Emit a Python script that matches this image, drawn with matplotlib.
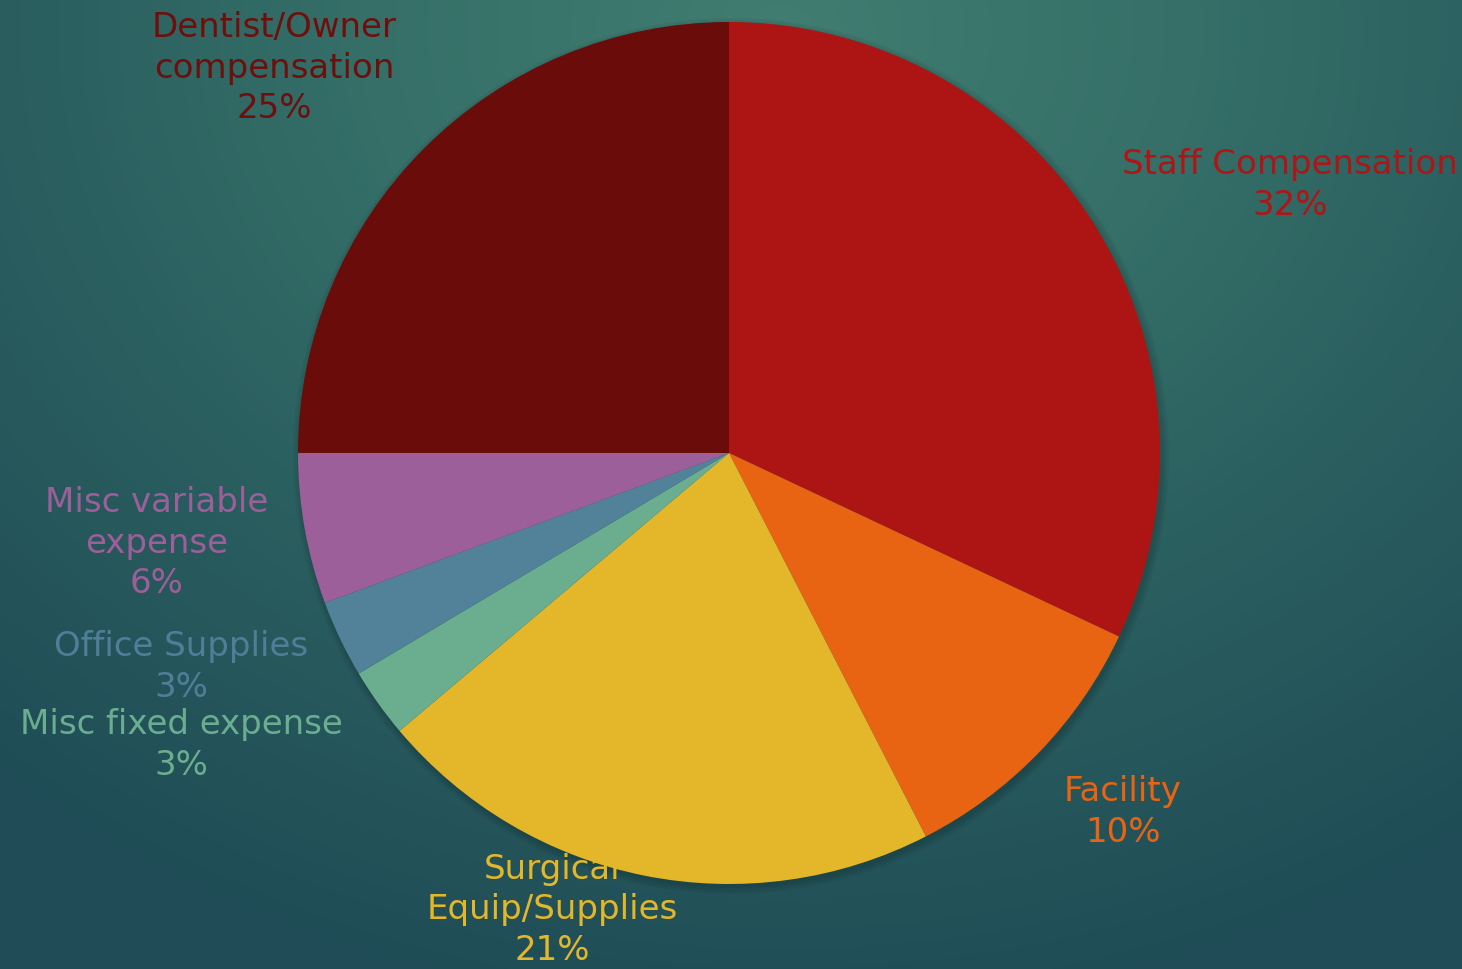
import numpy as np
import matplotlib.pyplot as plt
from matplotlib.colors import LinearSegmentedColormap
from matplotlib.patches import Circle

# slice data, clockwise from 12 o'clock
categories = ["Staff Compensation", "Facility", "Surgical\nEquip/Supplies",
              "Misc fixed expense", "Office Supplies", "Misc variable\nexpense",
              "Dentist/Owner\ncompensation"]
values = [32.0, 10.45, 21.4, 2.6, 2.9, 5.65, 25.0]
colors = ["#ad1414", "#e86412", "#e4b72a", "#6aae8f", "#518299", "#9c5f9a", "#690c0a"]
label_colors = ["#b01515", "#e86412", "#e4b72a", "#6aae8f", "#4f7f98", "#9c5f9a", "#6e0f0c"]
# label centres in pixels (x, y from top)
label_pos = [(1290, 185), (1123, 812), (552, 910), (181, 745),
             (181, 667), (157, 543), (274, 68)]

W, H = 1462, 969
fig = plt.figure(figsize=(W / 100, H / 100), dpi=100)

# background gradient
bg = fig.add_axes([0, 0, 1, 1], zorder=0)
bg.set_xlim(0, W)
bg.set_ylim(H, 0)
bg.axis("off")
yy, xx = np.mgrid[0:H, 0:W]
d = np.sqrt(((xx - 780) / 1.2) ** 2 + (yy - 30) ** 2) / 1000
d = np.clip(d, 0, 1)
cmap = LinearSegmentedColormap.from_list(
    "bg", [(0, "#417d71"), (0.35, "#356f68"), (0.6, "#2b6060"), (1, "#1f4c56")])
bg.imshow(d, cmap=cmap, extent=[0, W, H, 0], aspect="auto", interpolation="bilinear")

# soft shadow under the pie
cx, cy, r = 729, 453, 431
for i in range(4):
    bg.add_patch(Circle((cx + 2, cy + 3), r + 1 + 2 * i, color="black", alpha=0.04, lw=0))

total = sum(values)
for name, v, c, (lx, ly) in zip(categories, values, label_colors, label_pos):
    bg.text(lx, ly, f"{name}\n{round(v / total * 100)}%", color=c, fontsize=24.5,
            ha="center", va="center", linespacing=1.3, family="DejaVu Sans")

# the pie
ax = fig.add_axes([(cx - r) / W, (H - cy - r) / H, 2 * r / W, 2 * r / H], zorder=1)
ax.patch.set_alpha(0)
ax.pie(values, colors=colors, startangle=90, counterclock=False,
       wedgeprops=dict(linewidth=0))
ax.set_aspect("equal")
ax.set_xlim(-1, 1)
ax.set_ylim(-1, 1)
ax.axis("off")

fig.savefig("out.png", dpi=100)
